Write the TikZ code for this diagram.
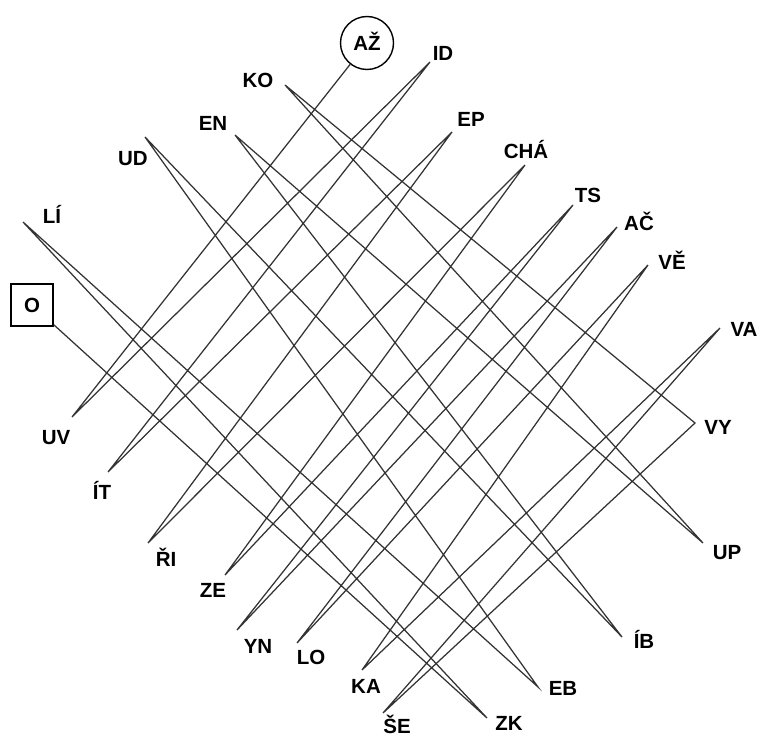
\documentclass[tikz,border=0pt]{standalone}
\usepackage{fontspec}
\newfontfamily\lblfont{Liberation Sans}
\tikzset{
  lbl/.style={font=\lblfont\bfseries\fontsize{20.5}{20.5}\selectfont,
    inner sep=0pt, text height=14.5pt, text depth=0pt},
  wire/.style={line width=1.25pt, black!80, line join=miter},
}
\begin{document}
\begin{tikzpicture}[x=1pt, y=-1pt]
      \useasboundingbox (0,0) rectangle (765,738);
      \begin{scope}[shift={(0,0)}]
        %% line ends
        \foreach \n/\x/\y in {id/430/62, ep/452/132, cha/525/165, ts/573/205,
            ac/617/227, ve/648/265, va/720/328, vy/695/423, up/703/543,
            ib/622/637, eb/538/687, zk/487/718, se/383/713, ka/362/670,
            lo/297/643, yn/237/630, ze/225/575, ri/148/543, it/108/472,
            uv/72/417, li/23/222, ud/145/137, en/235/135, ko/285/85} {
          \coordinate (\n) at (\x,\y); }

        %% syllables
        \foreach \n/\x/\y/\t in {id/443/53/ID, ep/471/119/EP, cha/526/151/CHÁ,
            ts/588/195/TS, ac/639/223/AČ, ve/672/262/VĚ, va/744/329/VA,
            vy/718/427/VY, up/727/552/UP, ib/644/641/ÍB, eb/563/688/EB,
            zk/509/723/ZK, se/397/726/ŠE, ka/366/686/KA, lo/311/657/LO,
            yn/258/646/YN, ze/213/590/ZE, ri/166/559/ŘI, it/102/492/ÍT,
            uv/56/437/UV, li/52/216/LÍ, ud/133/158/UD, en/213/123/EN,
            ko/258/80/KO} {
          \node[lbl] (l\n) at (\x,\y) {\t}; }

        %% start and end
        \node[lbl, draw, circle, minimum size=53pt, line width=1.4pt] (az) at (367,43) {AŽ};
        \node[lbl, draw, minimum size=42pt, line width=1.4pt] (o) at (32,305) {O};

        %% the chain
        \draw[wire] (az) -- (uv) -- (id) -- (it) -- (ep) -- (ri) -- (cha)
            -- (ze) -- (ts) -- (yn) -- (ac) -- (lo) -- (ve) -- (ka) -- (va)
            -- (se) -- (vy) -- (ko) -- (up) -- (en) -- (ib) -- (ud) -- (eb)
            -- (li) -- (zk) -- (o);
      \end{scope}
\end{tikzpicture}
\end{document}
